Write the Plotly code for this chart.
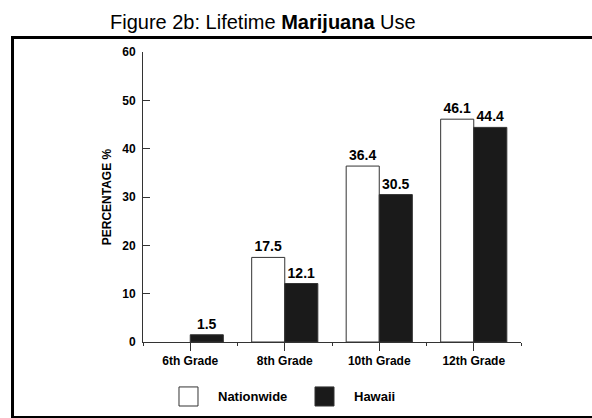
import plotly.graph_objects as go

grades = ["6th Grade", "8th Grade", "10th Grade", "12th Grade"]
series_names = ["Nationwide", "Hawaii"]
nationwide = [None, 17.5, 36.4, 46.1]
hawaii = [1.5, 12.1, 30.5, 44.4]
y_ticks = [0, 10, 20, 30, 40, 50, 60]

FONT = "Liberation Sans, Arial, sans-serif"
DARK = "#1a1a1a"
LINE = "#333333"

xs = list(range(len(grades)))

def labels(vals):
    return [("" if v is None else f"{v:.1f}") for v in vals]

fig = go.Figure()
fig.add_trace(go.Bar(
    x=xs, y=nationwide, name=series_names[0],
    marker=dict(color="white", line=dict(color=LINE, width=1)),
    text=labels(nationwide), textposition="outside", constraintext="none",
    textfont=dict(family=FONT, size=14, color="black", weight="bold"),
    cliponaxis=False, showlegend=False,
))
fig.add_trace(go.Bar(
    x=xs, y=hawaii, name=series_names[1],
    marker=dict(color=DARK, line=dict(color=LINE, width=1)),
    text=labels(hawaii), textposition="outside", constraintext="none",
    textfont=dict(family=FONT, size=14, color="black", weight="bold"),
    cliponaxis=False, showlegend=False,
))

fig.update_layout(
    width=592, height=418,
    margin=dict(l=143, r=71, t=52, b=76),
    paper_bgcolor="white", plot_bgcolor="white",
    barmode="group", bargap=0.3, bargroupgap=0,
    font=dict(family=FONT, color="black"),
    showlegend=False,
)
fig.update_xaxes(
    range=[-0.5, len(grades) - 0.5],
    tickmode="array", tickvals=xs, ticktext=grades,
    ticks="outside", ticklen=8, tickcolor=LINE, tickwidth=1,
    showline=True, linecolor=LINE, linewidth=1,
    showgrid=False, zeroline=False,
    tickfont=dict(family=FONT, size=12, color="black", weight="bold"),
    minor=dict(tickmode="linear", tick0=0.5, dtick=1, ticks="outside",
               ticklen=3, tickcolor=LINE, showgrid=False),
)
fig.update_yaxes(
    range=[0, 60], tickmode="array", tickvals=y_ticks,
    ticks="inside", ticklen=7, tickcolor=LINE, tickwidth=1,
    showline=True, linecolor=LINE, linewidth=1,
    showgrid=False, zeroline=False,
    tickfont=dict(family=FONT, size=12, color="black", weight="bold"),
    ticklabelstandoff=4,
    title=dict(text="PERCENTAGE %", standoff=8,
               font=dict(family=FONT, size=12, color="black", weight="bold")),
)

# Title
fig.add_annotation(
    xref="paper", yref="paper", x=0.317, y=1.103,
    xanchor="center", yanchor="middle", showarrow=False,
    text="Figure 2b: Lifetime <b>Marijuana</b> Use",
    font=dict(family=FONT, size=20, color="black"),
)

# Outer frame
fig.add_shape(type="rect", xref="paper", yref="paper",
              x0=-0.3452, x1=1.2, y0=-0.2603, y1=1.05,
              line=dict(color="black", width=3), fillcolor="rgba(0,0,0,0)",
              layer="below")

# Manual legend
legend_fill = ["white", DARK]
box_x0 = [0.0952, 0.455]
for name, fillc, bx in zip(series_names, legend_fill, box_x0):
    fig.add_shape(type="rect", xref="paper", yref="paper",
                  x0=bx, x1=bx + 0.0503, y0=-0.2207, y1=-0.155,
                  line=dict(color=LINE, width=1), fillcolor=fillc)
    fig.add_annotation(xref="paper", yref="paper", x=bx + 0.098, y=-0.188,
                       xanchor="left", yanchor="middle", showarrow=False,
                       text=name,
                       font=dict(family=FONT, size=13, color="black", weight="bold"))

fig.write_html("out.html")
